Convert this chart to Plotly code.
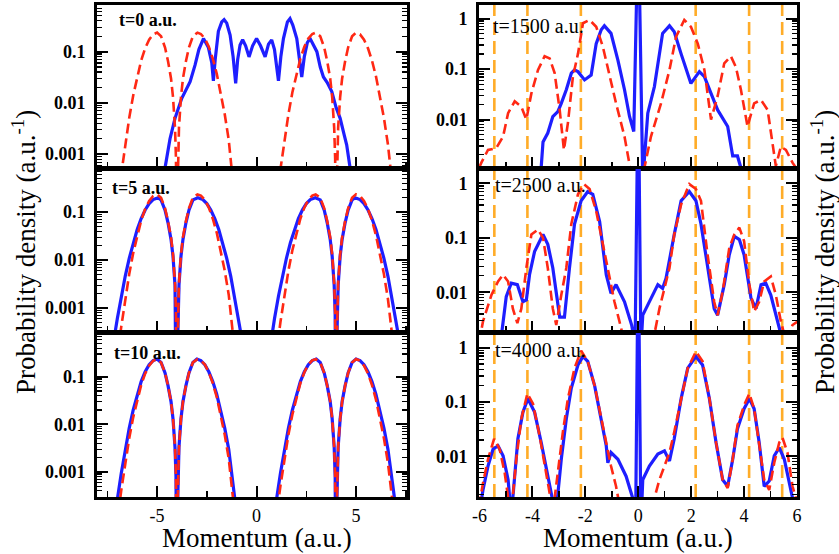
import plotly.graph_objects as go

# ---------------- data ----------------
# left column, reference curve (red dashed), same in t=0, 5, 10 panels
red_left_x = [-7.6, -7.3, -7.0, -6.8, -6.6, -6.4, -6.2, -6.0, -5.8, -5.6,
              -5.4, -5.2, -5.0, -4.8, -4.6, -4.45, -4.3, -4.2, -4.1, -4.05,
              -4.02, -4.0, -3.98, -3.95, -3.9, -3.8, -3.7, -3.55, -3.4, -3.2,
              -2.97, -2.8, -2.6, -2.4, -2.2, -2.0, -1.8, -1.6, -1.4, -1.2,
              -1.0, -0.8, -0.5, 0.0,
              0.5, 0.8, 1.0, 1.2, 1.4, 1.6, 1.8, 2.0, 2.2, 2.4,
              2.6, 2.8, 2.97, 3.2, 3.4, 3.55, 3.7, 3.8, 3.9, 3.95,
              3.98, 4.0, 4.02, 4.05, 4.1, 4.2, 4.3, 4.45, 4.6, 4.8,
              5.0, 5.2, 5.4, 5.6, 5.8, 6.0, 6.2, 6.4, 6.6, 6.8,
              7.0, 7.3, 7.6]
red_left_y = [4.2e-7, 7.4e-6, 9.3e-5, 4.1e-4, 1.56e-3, 5.1e-3, 0.014, 0.033, 0.067, 0.116,
              0.171, 0.217, 0.235, 0.2, 0.12, 0.065, 0.03, 0.013, 0.0033, 0.0008,
              0.00013, 1e-7, 0.00013, 0.0008, 0.0033, 0.013, 0.03, 0.065, 0.12, 0.2,
              0.235, 0.221, 0.18, 0.124, 0.073, 0.037, 0.0161, 0.006, 0.0019, 5.1e-4,
              1.2e-4, 2.3e-5, 1.5e-6, 7e-9,
              1.5e-6, 2.3e-5, 1.2e-4, 5.1e-4, 0.0019, 0.006, 0.0161, 0.037, 0.073, 0.124,
              0.18, 0.221, 0.235, 0.2, 0.12, 0.065, 0.03, 0.013, 0.0033, 0.0008,
              0.00013, 1e-7, 0.00013, 0.0008, 0.0033, 0.013, 0.03, 0.065, 0.12, 0.2,
              0.235, 0.217, 0.171, 0.116, 0.067, 0.033, 0.014, 0.0051, 0.00156, 4.1e-4,
              9.3e-5, 7.4e-6, 4.2e-7]

# t = 0 a.u. (blue)
t0_x = [-4.85, -4.6, -4.35, -4.1, -3.76, -3.5, -3.34, -3.09, -2.9, -2.67,
        -2.42, -2.25, -2.17, -2.08, -1.92, -1.75, -1.63, -1.5, -1.33, -1.18,
        -1.05, -0.95, -0.83, -0.7, -0.55, -0.38, -0.2, 0.0, 0.2, 0.43,
        0.6, 0.76, 0.9, 1.1, 1.22, 1.35, 1.55, 1.68, 1.82, 2.02,
        2.18, 2.27, 2.4, 2.55, 2.69, 2.85, 3.03, 3.2, 3.36, 3.55,
        3.78, 4.0, 4.2, 4.4, 4.53, 4.7, 4.85]
t0_y = [0.0002, 0.00054, 0.002, 0.005, 0.0123, 0.02, 0.026, 0.055, 0.11, 0.18,
        0.12, 0.06, 0.027, 0.07, 0.25, 0.38, 0.42, 0.36, 0.21, 0.08,
        0.024, 0.07, 0.135, 0.17, 0.13, 0.079, 0.13, 0.18, 0.13, 0.079,
        0.14, 0.17, 0.11, 0.027, 0.08, 0.18, 0.38, 0.44, 0.33, 0.18,
        0.06, 0.032, 0.08, 0.15, 0.18, 0.14, 0.1, 0.05, 0.032, 0.025,
        0.0166, 0.008, 0.005, 0.0024, 0.0015, 0.00054, 0.0002]

# t = 5 a.u. (blue)
t5_x = [-7.6, -7.5, -7.2, -7.0, -6.8, -6.6, -6.4, -6.2, -6.0, -5.8,
        -5.6, -5.4, -5.2, -4.95, -4.8, -4.6, -4.45, -4.3, -4.2, -4.1,
        -4.05, -4.02, -4.0, -3.98, -3.95, -3.9, -3.8, -3.7, -3.55, -3.4,
        -3.2, -2.95, -2.7, -2.5, -2.3, -2.1, -1.9, -1.7, -1.5, -1.3,
        -1.1, -0.9, -0.7, -0.4, 0.0,
        0.4, 0.7, 0.9, 1.1, 1.3, 1.5, 1.7, 1.9, 2.1, 2.3,
        2.5, 2.7, 2.95, 3.2, 3.4, 3.55, 3.7, 3.8, 3.9, 3.95,
        3.98, 4.0, 4.02, 4.05, 4.1, 4.2, 4.3, 4.45, 4.6, 4.8,
        4.95, 5.2, 5.4, 5.6, 5.8, 6.0, 6.2, 6.4, 6.6, 6.8,
        7.0, 7.2, 7.5, 7.6]
t5_y = [1.2e-5, 2.5e-5, 1.83e-4, 6.0e-4, 0.00176, 0.00464, 0.0109, 0.023, 0.0435, 0.0735,
        0.111, 0.151, 0.183, 0.2, 0.18, 0.11, 0.06, 0.027, 0.012, 0.003,
        0.00075, 0.00012, 1e-7, 0.00012, 0.00075, 0.003, 0.012, 0.027, 0.06, 0.11,
        0.18, 0.2, 0.183, 0.151, 0.111, 0.0735, 0.0435, 0.023, 0.0109, 0.00464,
        0.00176, 6.0e-4, 1.83e-4, 2.5e-5, 1.2e-6,
        2.5e-5, 1.83e-4, 6.0e-4, 0.00176, 0.00464, 0.0109, 0.023, 0.0435, 0.0735, 0.111,
        0.151, 0.183, 0.2, 0.18, 0.11, 0.06, 0.027, 0.012, 0.003, 0.00075,
        0.00012, 1e-7, 0.00012, 0.00075, 0.003, 0.012, 0.027, 0.06, 0.11, 0.18,
        0.2, 0.183, 0.151, 0.111, 0.0735, 0.0435, 0.023, 0.0109, 0.00464, 0.00176,
        6.0e-4, 1.83e-4, 2.5e-5, 1.2e-5]

# t = 10 a.u. (blue)
t10_x = [-7.6, -7.2, -7.0, -6.8, -6.6, -6.4, -6.2, -6.0, -5.8, -5.6,
         -5.4, -5.2, -5.0, -4.8, -4.6, -4.45, -4.3, -4.2, -4.1, -4.05,
         -4.02, -4.0, -3.98, -3.95, -3.9, -3.8, -3.7, -3.55, -3.4, -3.2,
         -3.0, -2.8, -2.6, -2.4, -2.2, -2.0, -1.8, -1.6, -1.4, -1.2,
         -1.0, -0.8, -0.5, 0.0,
         0.5, 0.8, 1.0, 1.2, 1.4, 1.6, 1.8, 2.0, 2.2, 2.4,
         2.6, 2.8, 3.0, 3.2, 3.4, 3.55, 3.7, 3.8, 3.9, 3.95,
         3.98, 4.0, 4.02, 4.05, 4.1, 4.2, 4.3, 4.45, 4.6, 4.8,
         5.0, 5.2, 5.4, 5.6, 5.8, 6.0, 6.2, 6.4, 6.6, 6.8,
         7.0, 7.2, 7.6]
t10_y = [2.3e-6, 6.2e-5, 2.6e-4, 9.3e-4, 0.003, 0.0083, 0.020, 0.0427, 0.079, 0.127,
         0.179, 0.219, 0.235, 0.2, 0.12, 0.065, 0.03, 0.013, 0.0033, 0.0008,
         0.00013, 1e-7, 0.00013, 0.0008, 0.0033, 0.013, 0.03, 0.065, 0.12, 0.2,
         0.235, 0.219, 0.179, 0.127, 0.079, 0.0427, 0.020, 0.0083, 0.003, 9.3e-4,
         2.6e-4, 6.2e-5, 5.6e-6, 5e-8,
         5.6e-6, 6.2e-5, 2.6e-4, 9.3e-4, 0.003, 0.0083, 0.020, 0.0427, 0.079, 0.127,
         0.179, 0.219, 0.235, 0.2, 0.12, 0.065, 0.03, 0.013, 0.0033, 0.0008,
         0.00013, 1e-7, 0.00013, 0.0008, 0.0033, 0.013, 0.03, 0.065, 0.12, 0.2,
         0.235, 0.219, 0.179, 0.127, 0.079, 0.0427, 0.020, 0.0083, 0.003, 9.3e-4,
         2.6e-4, 6.2e-5, 2.3e-6]

# t = 1500 a.u.
q1500_x = [-3.85, -3.69, -3.60, -3.42, -3.23, -3.04, -2.91, -2.72, -2.53, -2.41,
           -2.28, -2.03, -1.78, -1.59, -1.40, -1.28, -1.03, -0.77, -0.52, -0.33,
           -0.17, 0.0, 0.17, 0.36, 0.61, 0.92, 1.18, 1.36, 1.62, 1.99,
           2.31, 2.50, 2.75, 3.00, 3.38, 3.57, 3.75, 3.88, 4.0]
q1500_y = [0.0002, 0.0008, 0.0036, 0.0054, 0.0115, 0.0144, 0.021, 0.039, 0.083, 0.096,
           0.089, 0.061, 0.076, 0.32, 0.60, 0.72, 0.51, 0.15, 0.039, 0.0115,
           0.0058, 100, 0.0006, 0.0134, 0.045, 0.51, 0.72, 0.55, 0.20, 0.052,
           0.089, 0.071, 0.033, 0.0155, 0.0073, 0.0019, 0.0019, 0.0011, 0.0003]
c1500_x = [-6.02, -5.93, -5.68, -5.37, -5.11, -4.92, -4.67, -4.42, -4.23, -4.04,
           -3.79, -3.54, -3.35, -3.16, -2.97, -2.81, -2.66, -2.47, -2.28, -2.09,
           -1.84, -1.59, -1.34, -1.09, -0.84, -0.52, -0.33, -0.14, 0.05, 0.23,
           0.48, 0.86, 1.18, 1.43, 1.74, 1.99, 2.25, 2.50, 2.75, 3.00,
           3.25, 3.50, 3.69, 3.88, 4.13, 4.38, 4.64, 4.89, 5.08, 5.20,
           5.39, 5.58, 5.83, 6.02]
c1500_y = [0.0011, 0.0014, 0.0025, 0.0027, 0.0046, 0.0134, 0.023, 0.018, 0.010, 0.033,
           0.096, 0.18, 0.163, 0.083, 0.0155, 0.0025, 0.0085, 0.071, 0.20, 0.81,
           0.94, 0.69, 0.28, 0.071, 0.021, 0.0046, 0.0011, 0.0002, 0.0001, 0.0011,
           0.0046, 0.021, 0.096, 0.44, 0.94, 0.69, 0.32, 0.096, 0.010, 0.029,
           0.13, 0.18, 0.11, 0.039, 0.0073, 0.021, 0.0245, 0.0155, 0.0034, 0.0012,
           0.0029, 0.0025, 0.0014, 0.001]

# t = 2500 a.u.
q2500_x = [-5.3, -5.18, -4.99, -4.80, -4.57, -4.36, -4.23, -4.11, -3.92, -3.60,
           -3.42, -3.23, -2.97, -2.79, -2.60, -2.41, -2.16, -1.91, -1.72, -1.46,
           -1.21, -1.03, -0.84, -0.52, -0.25, -0.12, 0.0, 0.10, 0.17, 0.42,
           0.74, 0.92, 1.05, 1.36, 1.62, 1.93, 2.18, 2.37, 2.62, 2.87,
           3.00, 3.25, 3.44, 3.63, 3.82, 4.00, 4.26, 4.45, 4.64, 4.82,
           5.01, 5.26, 5.39, 5.55]
q2500_y = [0.0004, 0.0015, 0.0083, 0.0147, 0.0138, 0.0067, 0.0072, 0.021, 0.056, 0.115,
           0.076, 0.028, 0.0035, 0.0035, 0.028, 0.18, 0.48, 0.71, 0.63, 0.20,
           0.021, 0.0096, 0.0138, 0.0067, 0.0025, 0.0011, 100, 0.0009, 0.0038, 0.0067,
           0.0138, 0.0118, 0.018, 0.115, 0.48, 0.71, 0.48, 0.18, 0.028, 0.005,
           0.0038, 0.0138, 0.049, 0.107, 0.093, 0.049, 0.0078, 0.005, 0.0138, 0.0147,
           0.0089, 0.0029, 0.0017, 0.0004]
c2500_x = [-6.02, -5.87, -5.55, -5.30, -5.11, -4.92, -4.74, -4.57, -4.42, -4.23,
           -4.04, -3.79, -3.60, -3.42, -3.23, -3.10, -2.91, -2.72, -2.53, -2.28,
           -2.06, -1.84, -1.59, -1.34, -1.09, -0.90, -0.71, -0.58, -0.40, 0.0,
           0.42, 0.61, 0.80, 0.99, 1.18, 1.36, 1.62, 1.93, 2.18, 2.37,
           2.62, 2.87, 3.00, 3.19, 3.44, 3.63, 3.82, 4.00, 4.20, 4.38,
           4.57, 4.76, 5.01, 5.20, 5.39, 5.58, 5.83, 6.02]
c2500_y = [0.0012, 0.0029, 0.0089, 0.0158, 0.021, 0.0158, 0.005, 0.0027, 0.005, 0.028,
           0.115, 0.142, 0.10, 0.028, 0.005, 0.0025, 0.0089, 0.028, 0.18, 0.63,
           0.97, 0.79, 0.31, 0.076, 0.018, 0.0067, 0.0029, 0.0016, 0.0003, 0.00001,
           0.0003, 0.0017, 0.005, 0.0118, 0.028, 0.115, 0.41, 0.97, 0.79, 0.48,
           0.049, 0.0067, 0.0038, 0.0103, 0.065, 0.115, 0.154, 0.087, 0.0138, 0.0044,
           0.0067, 0.0158, 0.0195, 0.0089, 0.0029, 0.0013, 0.0025, 0.0029]

# t = 4000 a.u.
q4000_x = [-6.02, -5.87, -5.68, -5.49, -5.30, -5.11, -4.92, -4.80, -4.55, -4.36,
           -4.17, -3.92, -3.67, -3.42, -3.12, -2.91, -2.72, -2.53, -2.28, -2.09,
           -1.91, -1.65, -1.40, -1.21, -1.15, -1.03, -0.77, -0.46, -0.21, -0.10,
           0.0, 0.10, 0.17, 0.42, 0.74, 0.99, 1.18, 1.36, 1.62, 1.87,
           2.18, 2.43, 2.69, 2.94, 3.19, 3.38, 3.57, 3.75, 4.00, 4.20,
           4.38, 4.57, 4.76, 4.95, 5.14, 5.33, 5.52, 5.70, 5.83, 6.0]
q4000_y = [0.0008, 0.0024, 0.0066, 0.0135, 0.0156, 0.0102, 0.0037, 0.0008, 0.021, 0.065,
           0.115, 0.065, 0.018, 0.005, 0.0008, 0.0088, 0.049, 0.18, 0.48, 0.69,
           0.56, 0.20, 0.049, 0.0156, 0.0076, 0.0117, 0.0088, 0.0043, 0.0017, 0.0006,
           100, 0.0005, 0.0037, 0.0066, 0.011, 0.0126, 0.0082, 0.021, 0.115, 0.42,
           0.69, 0.48, 0.115, 0.018, 0.0037, 0.0028, 0.0088, 0.032, 0.075, 0.115,
           0.075, 0.018, 0.0028, 0.0035, 0.0102, 0.0145, 0.0088, 0.0032, 0.0017, 0.0007]
c4000_x = [-6.02, -5.87, -5.68, -5.45, -5.24, -5.05, -4.90, -4.80, -4.61, -4.42,
           -4.19, -3.98, -3.73, -3.48, -3.35, -3.20, -3.04, -2.85, -2.66, -2.41,
           -2.16, -1.91, -1.65, -1.40, -1.21, -1.03, -0.84, -0.71, -0.52, 0.0,
           0.48, 0.61, 0.80, 0.99, 1.18, 1.36, 1.62, 1.87, 2.18, 2.43,
           2.69, 2.94, 3.19, 3.38, 3.57, 3.75, 4.00, 4.20, 4.38, 4.57,
           4.76, 4.95, 5.14, 5.33, 5.45, 5.64, 5.83, 5.96, 6.02]
c4000_y = [0.0012, 0.0032, 0.0088, 0.021, 0.0135, 0.005, 0.0015, 0.0009, 0.0088, 0.049,
           0.143, 0.093, 0.024, 0.005, 0.0021, 0.0012, 0.005, 0.028, 0.115, 0.42,
           0.88, 0.56, 0.20, 0.049, 0.018, 0.0066, 0.0028, 0.0015, 0.0004, 0.00001,
           0.0004, 0.0017, 0.0037, 0.0066, 0.0117, 0.028, 0.115, 0.42, 0.85, 0.56,
           0.115, 0.018, 0.0037, 0.0026, 0.0088, 0.037, 0.087, 0.143, 0.075, 0.018,
           0.0037, 0.0024, 0.0076, 0.018, 0.022, 0.0117, 0.0028, 0.0017, 0.001]

# vertical orange reference momenta (right column)
orange_momenta = [-5.44, -4.19, -2.17, 2.17, 4.19, 5.44]

panel_labels = ["t=0 a.u.", "t=5 a.u.", "t=10 a.u.",
                "t=1500 a.u.", "t=2500 a.u.", "t=4000 a.u."]

left_xticks = [-5, 0, 5]
left_xticktext = ["-5", "0", "5"]
left_xminor = [-7.5, -2.5, 2.5, 7.5]
right_xticks = [-6, -4, -2, 0, 2, 4, 6]
right_xticktext = ["-6", "-4", "-2", "0", "2", "4", "6"]
right_xminor = [-5, -3, -1, 1, 3, 5]
y_ticks = [0.001, 0.01, 0.1, 1]
y_ticktext = ["0.001", "0.01", "0.1", "1"]
y_minor = [m * d for d in (1e-4, 1e-3, 1e-2, 1e-1, 1) for m in range(2, 10)]

# ---------------- figure ----------------
W, H = 839, 554
BLUE = "rgb(30,30,255)"
RED = "rgb(255,40,20)"
ORANGE = "rgb(255,172,40)"
SERIF = "Liberation Serif, Times New Roman, serif"


def px_x(p):
    return p / W


def px_y(p):
    return 1 - p / H


left_dom = [px_x(97), px_x(407)]
right_dom = [px_x(479), px_x(797)]
row_dom = [[px_y(168), px_y(5)], [px_y(332), px_y(169)], [px_y(497), px_y(333)]]

panels = [
    # xdom, ydom, xrange, yrange(log10), bottom-labels
    (left_dom, row_dom[0], [-8.02, 7.56], [-3.27, -0.09], False, "L"),
    (left_dom, row_dom[1], [-8.02, 7.56], [-3.50, -0.10], False, "L"),
    (left_dom, row_dom[2], [-8.02, 7.56], [-3.53, -0.08], True, "L"),
    (right_dom, row_dom[0], [-6.02, 6.0], [-2.96, 0.27], False, "R"),
    (right_dom, row_dom[1], [-6.02, 6.0], [-2.73, 0.265], False, "R"),
    (right_dom, row_dom[2], [-6.02, 6.0], [-2.75, 0.27], True, "R"),
]

curves = [
    (t0_x, t0_y, red_left_x, red_left_y),
    (t5_x, t5_y, red_left_x, red_left_y),
    (t10_x, t10_y, red_left_x, red_left_y),
    (q1500_x, q1500_y, c1500_x, c1500_y),
    (q2500_x, q2500_y, c2500_x, c2500_y),
    (q4000_x, q4000_y, c4000_x, c4000_y),
]

fig = go.Figure()
layout = dict(
    width=W, height=H,
    margin=dict(l=0, r=0, t=0, b=0),
    paper_bgcolor="white", plot_bgcolor="white",
    showlegend=False,
    font=dict(family=SERIF, color="black"),
)
shapes = []
annotations = []

for i, (xd, yd, xr, yr, showx, side) in enumerate(panels):
    n = i + 1
    xname = "xaxis" if n == 1 else f"xaxis{n}"
    yname = "yaxis" if n == 1 else f"yaxis{n}"
    xref = "x" if n == 1 else f"x{n}"
    yref = "y" if n == 1 else f"y{n}"
    bx, by, rx, ry = curves[i]
    fig.add_trace(go.Scatter(x=bx, y=by, mode="lines", xaxis=xref, yaxis=yref,
                             line=dict(color=BLUE, width=3.2), hoverinfo="skip"))
    fig.add_trace(go.Scatter(x=rx, y=ry, mode="lines", xaxis=xref, yaxis=yref,
                             line=dict(color=RED, width=2.6, dash="10px,5px"),
                             hoverinfo="skip"))
    if side == "L":
        tv, tt, mv = left_xticks, left_xticktext, left_xminor
    else:
        tv, tt, mv = right_xticks, right_xticktext, right_xminor
    layout[xname] = dict(
        domain=xd, range=xr, anchor=yref, automargin=False,
        showline=True, linecolor="black", linewidth=3, mirror=True,
        showgrid=False, zeroline=False,
        ticks="inside", ticklen=11, tickwidth=2, tickcolor="black",
        tickmode="array", tickvals=tv, ticktext=tt,
        showticklabels=showx, ticklabelstandoff=0,
        tickfont=dict(family=SERIF, size=18, color="black"),
        minor=dict(tickmode="array", tickvals=mv, ticks="inside", ticklen=6,
                   tickwidth=1.5, tickcolor="black", showgrid=False),
    )
    layout[yname] = dict(
        domain=yd, type="log", range=yr, anchor=xref, automargin=False,
        showline=True, linecolor="black", linewidth=3, mirror="ticks",
        showgrid=False, zeroline=False,
        ticks="inside", ticklen=11, tickwidth=2, tickcolor="black",
        tickmode="array", tickvals=y_ticks, ticktext=y_ticktext,
        ticklabelstandoff=5,
        tickfont=dict(family=SERIF, size=18, color="black", weight="bold"),
        minor=dict(tickmode="array", tickvals=y_minor, ticks="inside", ticklen=5,
                   tickwidth=1.2, tickcolor="black", showgrid=False),
    )
    if side == "R":
        for m in orange_momenta:
            shapes.append(dict(type="line", xref=xref, yref=f"{yref} domain",
                               x0=m, x1=m, y0=0, y1=1, layer="below",
                               line=dict(color=ORANGE, width=2.6, dash="13px,6px")))

# panel labels
label_pos = [(117, 20), (110, 188), (112, 353), (491, 26), (493, 185), (493, 350)]
for i, (lx, ly) in enumerate(label_pos):
    bold = i < 3
    txt = f"<b>{panel_labels[i]}</b>" if bold else panel_labels[i]
    annotations.append(dict(x=px_x(lx), y=px_y(ly), xref="paper", yref="paper",
                            xanchor="left", yanchor="middle", showarrow=False,
                            text=txt,
                            font=dict(family=SERIF, size=18 if bold else 20,
                                      color="black")))

# axis titles
for cx in (257, 638):
    annotations.append(dict(x=px_x(cx), y=0, xref="paper", yref="paper",
                            xanchor="center", yanchor="bottom", showarrow=False,
                            borderpad=0,
                            text="Momentum (a.u.)",
                            font=dict(family=SERIF, size=27, color="black")))
for cx in (24, 823):
    annotations.append(dict(x=px_x(cx), y=px_y(252), xref="paper", yref="paper",
                            xanchor="center", yanchor="middle", showarrow=False,
                            textangle=-90,
                            text="Probability density (a.u.<sup>-1</sup>)",
                            font=dict(family=SERIF, size=27, color="black")))

layout["shapes"] = shapes
layout["annotations"] = annotations
fig.update_layout(**layout)
fig.write_html("out.html",
               config={"displayModeBar": False, "staticPlot": True},
               post_script="document.body.style.margin='0px';"
                           "document.body.style.padding='0px';")
